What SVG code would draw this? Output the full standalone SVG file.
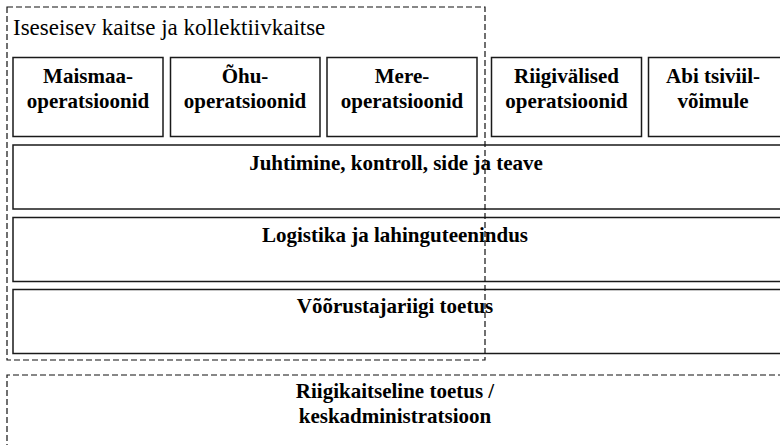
<svg xmlns="http://www.w3.org/2000/svg" width="780" height="445" viewBox="0 0 780 445">
<style>
.bg{fill:#fff}
.box{fill:none;stroke:#1a1a1a;stroke-width:1.5}
.dash{fill:none;stroke:#111;stroke-width:1.2;stroke-dasharray:6 3}
.h{font-family:"Liberation Serif","Times New Roman",serif;font-size:23px;fill:#000}
.b{font-family:"Liberation Serif","Times New Roman",serif;font-size:21px;font-weight:bold;fill:#000;text-anchor:middle}
</style>
<rect class="bg" x="0" y="0" width="780" height="445"/>
<g id="maismaa">
<rect class="box" x="13" y="57.5" width="150" height="79"/>
<text class="b" x="88" y="83">Maismaa-</text>
<text class="b" x="88" y="108">operatsioonid</text>
</g>
<g id="ohu">
<rect class="box" x="170.5" y="57.5" width="149.5" height="79"/>
<text class="b" x="245" y="83">Õhu-</text>
<text class="b" x="245" y="108">operatsioonid</text>
</g>
<g id="mere">
<rect class="box" x="327" y="57.5" width="150" height="79"/>
<text class="b" x="402" y="83">Mere-</text>
<text class="b" x="402" y="108">operatsioonid</text>
</g>
<g id="riigivalised">
<rect class="box" x="491.5" y="57.5" width="150" height="79"/>
<text class="b" x="566.5" y="83">Riigivälised</text>
<text class="b" x="566.5" y="108">operatsioonid</text>
</g>
<g id="abi">
<rect class="box" x="648.5" y="57.5" width="140" height="79"/>
<text class="b" x="713" y="83">Abi tsiviil-</text>
<text class="b" x="713" y="108">võimule</text>
</g>
<g id="juhtimine">
<rect class="box" x="13" y="145" width="775" height="64"/>
<text class="b" x="396" y="170">Juhtimine, kontroll, side ja teave</text>
</g>
<g id="logistika">
<rect class="box" x="13" y="217.5" width="775" height="64"/>
<text class="b" x="395" y="242">Logistika ja lahinguteenindus</text>
</g>
<g id="voorustaja">
<rect class="box" x="13" y="289.5" width="775" height="64"/>
<text class="b" x="395" y="313">Võõrustajariigi toetus</text>
</g>
<g id="iseseisev">
<rect class="dash" x="7" y="7" width="478" height="353"/>
<text class="h" x="13" y="35">Iseseisev kaitse ja kollektiivkaitse</text>
</g>
<g id="riigikaitseline">
<path class="dash" d="M7,450 V375 H782"/>
<text class="b" x="395" y="398">Riigikaitseline toetus /</text>
<text class="b" x="395" y="423">keskadministratsioon</text>
</g>
<g id="connectors"></g>
</svg>
